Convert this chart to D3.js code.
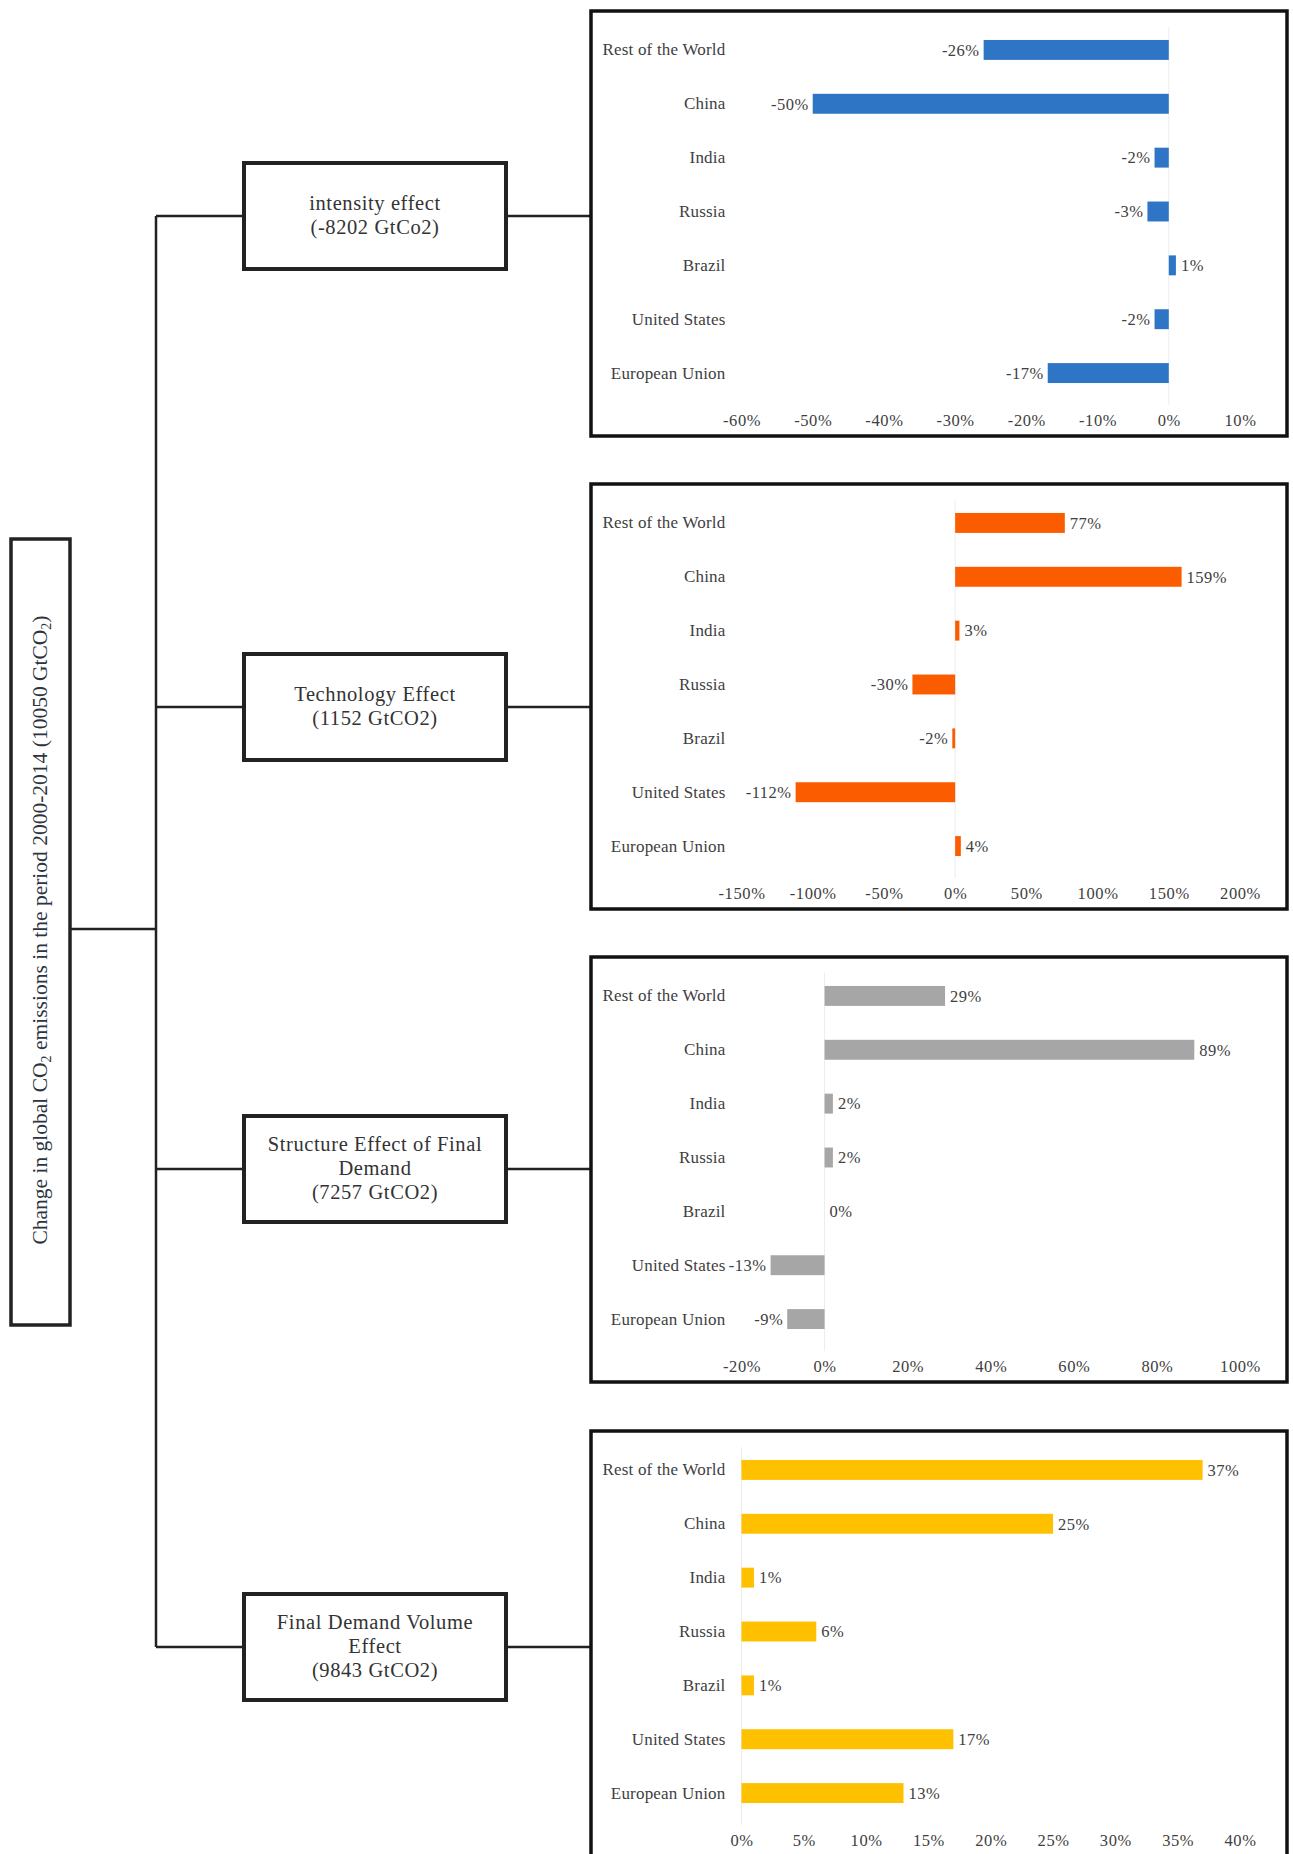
<!DOCTYPE html>
<html>
<head>
<meta charset="utf-8">
<script src="https://cdn.jsdelivr.net/npm/d3@7"></script>
<style>
  body { margin: 0; background: #fff; }
  svg text { font-family: "Liberation Serif", "Times New Roman", serif; }
</style>
</head>
<body>
<div id="chart"></div>
<script>
(function () {

  // countries, top to bottom in every panel
  const categories = ['Rest of the World', 'China', 'India', 'Russia', 'Brazil', 'United States', 'European Union'];

  // share of each effect, in percent
  const intensityValues = [-26, -50, -2, -3, 1, -2, -17];
  const technologyValues = [77, 159, 3, -30, -2, -112, 4];
  const structureValues = [29, 89, 2, 2, 0, -13, -9];
  const volumeValues = [37, 25, 1, 6, 1, 17, 13];

  // x axis ticks of each panel
  const intensityTicks = [-60, -50, -40, -30, -20, -10, 0, 10];
  const technologyTicks = [-150, -100, -50, 0, 50, 100, 150, 200];
  const structureTicks = [-20, 0, 20, 40, 60, 80, 100];
  const volumeTicks = [0, 5, 10, 15, 20, 25, 30, 35, 40];

  // text of the effect boxes
  const effectLabels = [
    ['intensity effect', '(-8202 GtCo2)'],
    ['Technology Effect', '(1152 GtCO2)'],
    ['Structure Effect of Final', 'Demand', '(7257 GtCO2)'],
    ['Final Demand Volume', 'Effect', '(9843 GtCO2)']
  ];

  const panelColors = ['#2e75c6', '#fc5c00', '#a6a6a6', '#ffc000'];

  const width = 1293;
  const height = 1854;

  const svg = d3.select('#chart')
    .append('svg')
    .attr('width', width)
    .attr('height', height);

  const lineColor = '#222';
  const serif = '"Liberation Serif", "Times New Roman", serif';

  // root box on the left, with the rotated title
  svg.append('rect')
    .attr('x', 11).attr('y', 539)
    .attr('width', 59).attr('height', 786)
    .attr('fill', 'none').attr('stroke', lineColor).attr('stroke-width', 3.5);

  const title = svg.append('text')
    .attr('transform', 'translate(47,930) rotate(-90)')
    .attr('text-anchor', 'middle')
    .attr('font-size', 21.5)
    .attr('fill', '#2b3440');
  title.append('tspan').text('Change in global CO');
  title.append('tspan').attr('font-size', 14).attr('dy', 4).text('2');
  title.append('tspan').attr('dy', -4).text(' emissions in the period 2000-2014 (10050 GtCO');
  title.append('tspan').attr('font-size', 14).attr('dy', 4).text('2');
  title.append('tspan').attr('dy', -4).text(')');

  // tree lines
  const trunkX = 156;
  const branchY = [216, 707, 1169, 1647];
  const boxLeft = 244, boxRight = 506, boxH = 106;
  const frameLeft = 591, frameW = 696, frameH = 425;
  const frameTops = [11, 484, 957, 1431];

  svg.append('line')
    .attr('x1', 70).attr('x2', trunkX).attr('y1', 929).attr('y2', 929)
    .attr('stroke', lineColor).attr('stroke-width', 2.5);
  svg.append('line')
    .attr('x1', trunkX).attr('x2', trunkX).attr('y1', branchY[0]).attr('y2', branchY[3])
    .attr('stroke', lineColor).attr('stroke-width', 2.5);

  branchY.forEach((y, i) => {
    svg.append('line')
      .attr('x1', trunkX).attr('x2', boxLeft).attr('y1', y).attr('y2', y)
      .attr('stroke', lineColor).attr('stroke-width', 2.5);
    svg.append('line')
      .attr('x1', boxRight).attr('x2', frameLeft).attr('y1', y).attr('y2', y)
      .attr('stroke', lineColor).attr('stroke-width', 2.5);

    svg.append('rect')
      .attr('x', boxLeft).attr('y', y - boxH / 2)
      .attr('width', boxRight - boxLeft).attr('height', boxH)
      .attr('fill', '#fff').attr('stroke', lineColor).attr('stroke-width', 4);

    const lines = effectLabels[i];
    const lh = 24;
    const t = svg.append('text')
      .attr('text-anchor', 'middle')
      .attr('font-size', 20.5)
      .attr('letter-spacing', 0.6)
      .attr('fill', '#333');
    lines.forEach((s, j) => {
      t.append('tspan')
        .attr('x', (boxLeft + boxRight) / 2)
        .attr('y', y + (j - (lines.length - 1) / 2) * lh + 6)
        .text(s);
    });
  });

  // bar panels
  const panels = [
    { values: intensityValues, ticks: intensityTicks },
    { values: technologyValues, ticks: technologyTicks },
    { values: structureValues, ticks: structureTicks },
    { values: volumeValues, ticks: volumeTicks }
  ];

  panels.forEach((p, i) => {
    const g = svg.append('g')
      .attr('transform', `translate(${frameLeft},${frameTops[i]})`);

    g.append('rect')
      .attr('width', frameW).attr('height', frameH)
      .attr('fill', '#fff').attr('stroke', '#111').attr('stroke-width', 3.5);

    const x = d3.scaleLinear()
      .domain(d3.extent(p.ticks))
      .range([150.5, 649]);

    const y = d3.scaleBand()
      .domain(categories)
      .range([12, 389])
      .paddingInner(0.63)
      .paddingOuter(0.315);

    // faint zero line
    g.append('line')
      .attr('x1', x(0)).attr('x2', x(0))
      .attr('y1', 16).attr('y2', 394)
      .attr('stroke', '#ececec').attr('stroke-width', 1);

    g.append('g')
      .selectAll('rect')
      .data(p.values)
      .join('rect')
      .attr('x', d => x(Math.min(0, d)))
      .attr('width', d => Math.abs(x(d) - x(0)))
      .attr('y', (d, k) => y(categories[k]))
      .attr('height', y.bandwidth())
      .attr('fill', panelColors[i]);

    g.append('g')
      .selectAll('text')
      .data(p.values)
      .join('text')
      .attr('x', d => d < 0 ? x(d) - 4 : x(d) + 5)
      .attr('y', (d, k) => y(categories[k]) + y.bandwidth() / 2)
      .attr('dy', '0.35em')
      .attr('text-anchor', d => d < 0 ? 'end' : 'start')
      .attr('font-size', 16.5)
      .attr('letter-spacing', 0.5)
      .attr('fill', '#404040')
      .text(d => d + '%');

    const yAxis = g.append('g')
      .attr('transform', 'translate(134.5,0)')
      .call(d3.axisLeft(y).tickSize(0).tickPadding(0));
    yAxis.select('.domain').remove();
    yAxis.selectAll('text')
      .attr('font-size', 17)
      .attr('letter-spacing', 0.2)
      .attr('font-family', serif)
      .attr('fill', '#404040');

    const xAxis = g.append('g')
      .attr('transform', 'translate(0,397)')
      .call(d3.axisBottom(x).tickValues(p.ticks).tickSize(0).tickPadding(6).tickFormat(d => d + '%'));
    xAxis.select('.domain').remove();
    xAxis.selectAll('text')
      .attr('font-size', 16.5)
      .attr('letter-spacing', 0.6)
      .attr('font-family', serif)
      .attr('fill', '#404040');
  });

})();
</script>
</body>
</html>
